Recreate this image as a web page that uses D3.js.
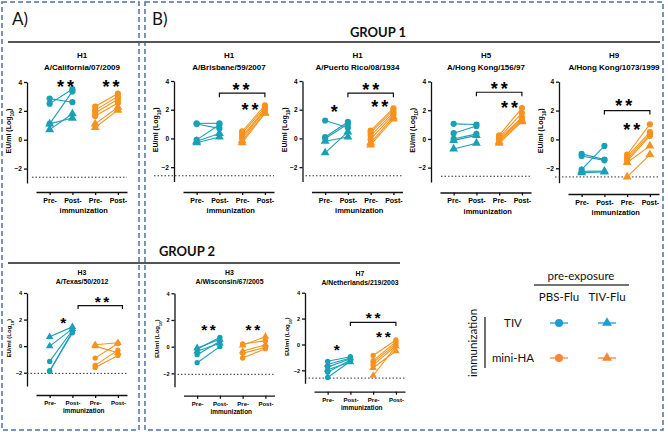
<!DOCTYPE html>
<html>
<head>
<meta charset="utf-8">
<script src="https://cdn.jsdelivr.net/npm/d3@7"></script>
<style>
  body { margin: 0; background: #fff; }
  svg { display: block; }
</style>
</head>
<body>
<div id="chart"></div>
<script>
// ---- categories / ticks
const timepoints = ["Pre-", "Post-", "Pre-", "Post-"];
const yTicks = [4, 2, 0, -2];
const panelTitles = [
  ["H1", "A/California/07/2009"],
  ["H1", "A/Brisbane/59/2007"],
  ["H1", "A/Puerto Rico/08/1934"],
  ["H5", "A/Hong Kong/156/97"],
  ["H9", "A/Hong Kong/1073/1999"],
  ["H3", "A/Texas/50/2012"],
  ["H3", "A/Wisconsin/67/2005"],
  ["H7", "A/Netherlands/219/2003"]
];
const lodValues = [-2.6, -2.6, -2.6, -2.6, -2.6, -2.05, -2.07, -2.6];

// ---- values, each pair is [pre, post] for one animal (log10 EU/ml)
// TIV immunized / PBS-Flu, TIV immunized / TIV-Flu, mini-HA / PBS-Flu, mini-HA / TIV-Flu
const calTivPbs = [[2.85, 2.6], [2.5, 3.5], [1.1, 3.35]];
const calTivTiv = [[1.1, 1.5], [0.7, 1.8]];
const calMiniPbs = [[2.3, 3.2], [2.05, 3.0], [1.85, 2.8], [1.65, 2.55]];
const calMiniTiv = [[1.1, 2.25], [0.85, 2.05]];

const brisTivPbs = [[1.05, 1.05], [1.0, 0.7], [-0.1, 0.95]];
const brisTivTiv = [[-0.2, 0.35], [-0.3, 0.1]];
const brisMiniPbs = [[0.5, 2.3], [0.35, 2.15], [0.15, 2.0], [0.0, 1.95]];
const brisMiniTiv = [[-0.15, 1.8], [-0.3, 1.75]];

const prTivPbs = [[1.25, 0.75], [0.1, 1.15], [0.0, 1.0]];
const prTivTiv = [[-0.2, 0.1], [-1.0, 0.45]];
const prMiniPbs = [[0.55, 2.1], [0.4, 1.95], [0.2, 1.8], [-0.05, 1.65]];
const prMiniTiv = [[-0.3, 1.5], [-0.45, 1.35]];

const h5TivPbs = [[1.05, 1.0], [0.4, 0.9], [0.0, 0.35]];
const h5TivTiv = [[-0.1, 0.25], [-0.7, -0.3]];
const h5MiniPbs = [[0.25, 2.15], [0.1, 1.8], [0.0, 1.5], [-0.1, 1.4]];
const h5MiniTiv = [[-0.2, 1.3], [-0.3, 1.2]];

const h9TivPbs = [[-1.0, -1.4], [-1.15, -1.45], [-2.1, -0.45]];
const h9TivTiv = [[-2.2, -2.2], [-2.3, -2.25]];
const h9MiniPbs = [[-1.05, 1.05], [-1.2, 0.5], [-1.35, 0.35], [-1.5, 0.25]];
const h9MiniTiv = [[-1.6, -0.45], [-2.6, -1.05]];

const texTivPbs = [[-1.15, 1.2], [-1.85, 1.0], [-1.9, 1.1]];
const texTivTiv = [[0.7, 1.45], [0.0, 1.3]];
const texMiniPbs = [[-0.9, 0.2], [-1.45, -0.3], [-1.6, -0.7]];
const texMiniTiv = [[0.1, 0.25], [0.0, -0.5]];

const wisTivPbs = [[-0.2, 0.7], [-0.6, 0.4], [-1.2, 0.0]];
const wisTivTiv = [[-0.1, 0.55], [-0.35, 0.25]];
const wisMiniPbs = [[0.2, 0.45], [-0.5, -0.05], [-0.85, -0.15]];
const wisMiniTiv = [[0.1, 0.75], [-0.35, 0.15]];

const h7TivPbs = [[-1.3, -0.95], [-1.75, -1.1], [-2.15, -1.2], [-2.55, -1.3]];
const h7TivTiv = [[-1.55, -1.05], [-1.95, -1.35]];
const h7MiniPbs = [[-0.85, 0.35], [-1.25, 0.2], [-1.4, 0.05], [-1.6, -0.1]];
const h7MiniTiv = [[-1.8, -0.5], [-2.4, -0.15]];

// significance marks: [text, x position (group index), y value]
const calStars = [["**", 0.7, 3.9], ["**", 2.7, 3.9]];
const brisStars = [["**", 1.95, 3.65], ["**", 2.35, 2.2]];
const prStars = [["*", 0.4, 2.05], ["**", 2.0, 3.6], ["**", 2.4, 2.4]];
const h5Stars = [["**", 2.0, 3.75], ["**", 2.45, 2.4]];
const h9Stars = [["**", 1.85, 2.55], ["**", 2.2, 0.9]];
const texStars = [["*", 0.6, 1.95], ["**", 2.3, 3.55]];
const wisStars = [["**", 0.5, 1.5], ["**", 2.45, 1.5]];
const h7Stars = [["*", 0.4, -0.2], ["**", 2.0, 2.3], ["**", 2.45, 0.8]];
// brackets: [from index, to index, y value]
const panelBrackets = [null, [1, 3, 3.15], [1, 3, 3.15], [1, 3, 3.25], [1, 3, 2.0], [1.25, 3.2, 3.05], null, [1, 3, 1.7]];

// ---- page layout (positions only)
const layout = [
  { ax: 27, top: 82, bot: 183, xa: 192, t1: 58, t2: 70, s: 1, lod: 5 },
  { ax: 174, top: 81, bot: 181.5, xa: 192, t1: 58, t2: 70, s: 1, lod: -20 },
  { ax: 302.5, top: 81, bot: 181.5, xa: 192, t1: 58, t2: 70, s: 1, lod: 3 },
  { ax: 431, top: 81.5, bot: 182, xa: 192.5, t1: 58, t2: 70, s: 1, lod: 10 },
  { ax: 559, top: 81.7, bot: 182.7, xa: 194, t1: 58, t2: 70, s: 1, lod: -4 },
  { ax: 27, top: 293, bot: 386, xa: 395, t1: 275, t2: 283.5, s: 0.86, lod: 0 },
  { ax: 174.5, top: 293.3, bot: 386.7, xa: 395.7, t1: 275, t2: 283.5, s: 0.86, lod: 3 },
  { ax: 305, top: 292.7, bot: 383.3, xa: 391.7, t1: 276, t2: 284.5, s: 0.86, lod: 0 }
];

const panels = [
  [calTivPbs, calTivTiv, calMiniPbs, calMiniTiv, calStars],
  [brisTivPbs, brisTivTiv, brisMiniPbs, brisMiniTiv, brisStars],
  [prTivPbs, prTivTiv, prMiniPbs, prMiniTiv, prStars],
  [h5TivPbs, h5TivTiv, h5MiniPbs, h5MiniTiv, h5Stars],
  [h9TivPbs, h9TivTiv, h9MiniPbs, h9MiniTiv, h9Stars],
  [texTivPbs, texTivTiv, texMiniPbs, texMiniTiv, texStars],
  [wisTivPbs, wisTivTiv, wisMiniPbs, wisMiniTiv, wisStars],
  [h7TivPbs, h7TivTiv, h7MiniPbs, h7MiniTiv, h7Stars]
].map((d, i) => ({
  title: panelTitles[i],
  series: d.slice(0, 4),
  stars: d[4],
  lod: lodValues[i],
  bracket: panelBrackets[i],
  lay: layout[i]
}));

const teal = "#1aa0b6";
const orange = "#f7921e";
const seriesColor = [teal, teal, orange, orange];
const seriesShape = ["circle", "triangle", "circle", "triangle"];
const seriesIdx = [[0, 1], [0, 1], [2, 3], [2, 3]];
const arial = "'Liberation Sans', Arial, sans-serif";
const calibri = "Lato, 'Open Sans', sans-serif";

const svg = d3.select("#chart").append("svg")
  .attr("width", 668)
  .attr("height", 432);

// dashed frames
const frame = "#4d72a0";
svg.append("rect").attr("x", 2).attr("y", 2).attr("width", 137).attr("height", 428)
  .attr("fill", "none").attr("stroke", frame).attr("stroke-width", 1.5).attr("stroke-dasharray", "5,3");
svg.append("rect").attr("x", 145).attr("y", 2).attr("width", 518).attr("height", 428)
  .attr("fill", "none").attr("stroke", frame).attr("stroke-width", 1.5).attr("stroke-dasharray", "5,3");

svg.append("text").attr("x", 12).attr("y", 25).text("A)")
  .style("font-family", calibri).style("font-size", "17px").attr("fill", "#111");
svg.append("text").attr("x", 152).attr("y", 25).text("B)")
  .style("font-family", calibri).style("font-size", "17px").attr("fill", "#111");

// group headers
svg.append("line").attr("x1", 8).attr("x2", 660).attr("y1", 42).attr("y2", 42)
  .attr("stroke", "#555").attr("stroke-width", 2);
svg.append("text").attr("x", 378).attr("y", 37).attr("text-anchor", "middle").text("GROUP 1")
  .style("font-family", calibri).style("font-size", "13px").style("font-weight", "bold").attr("fill", "#111");
svg.append("line").attr("x1", 8).attr("x2", 400).attr("y1", 263).attr("y2", 263)
  .attr("stroke", "#555").attr("stroke-width", 2);
svg.append("text").attr("x", 187).attr("y", 256).attr("text-anchor", "middle").text("GROUP 2")
  .style("font-family", calibri).style("font-size", "13px").style("font-weight", "bold").attr("fill", "#111");

function drawPanel(p) {
  const L = p.lay, s = L.s;
  const g = svg.append("g");
  const y = d3.scaleLinear().domain([-3, 4]).range([L.bot, L.top]);
  const x = d3.scaleLinear().domain([-0.6, 3.4]).range([L.ax + 9, L.ax + 100]);
  const cx = L.ax + 55;

  // titles
  g.append("text").attr("x", cx).attr("y", L.t1).attr("text-anchor", "middle").text(p.title[0])
    .style("font-family", arial).style("font-size", (8 * s) + "px").style("font-weight", "bold");
  g.append("text").attr("x", cx).attr("y", L.t2).attr("text-anchor", "middle").text(p.title[1])
    .style("font-family", arial).style("font-size", (8 * s) + "px").style("font-weight", "bold");

  // y axis
  const yAxis = g.append("g").attr("transform", `translate(${L.ax},0)`)
    .call(d3.axisLeft(y).tickValues(yTicks).tickFormat(d3.format("d")).tickSize(3).tickSizeOuter(0).tickPadding(2));
  yAxis.selectAll("text").style("font-family", arial).style("font-size", (6.5 * s) + "px").style("font-weight", "bold");
  yAxis.selectAll("path,line").attr("stroke", "#111").attr("stroke-width", 1.3);

  const yl = g.append("text")
    .attr("transform", `translate(${L.ax - 16},${y(0.6)}) rotate(-90)`)
    .attr("text-anchor", "middle")
    .style("font-family", arial).style("font-size", (7 * s) + "px").style("font-weight", "bold");
  yl.append("tspan").text("EU/ml (Log");
  yl.append("tspan").text("10").attr("baseline-shift", "sub").style("font-size", (5 * s) + "px");
  yl.append("tspan").text(")");

  // x axis
  const xAxis = g.append("g").attr("transform", `translate(0,${L.xa})`)
    .call(d3.axisBottom(x).tickValues([0, 1, 2, 3]).tickFormat(i => timepoints[i]).tickSize(3).tickSizeOuter(0).tickPadding(3));
  xAxis.selectAll("text").style("font-family", arial).style("font-size", (7 * s) + "px").style("font-weight", "bold");
  xAxis.selectAll("path,line").attr("stroke", "#111").attr("stroke-width", 1.3);
  g.append("text").attr("x", x(1.5)).attr("y", L.xa + 21 * s).attr("text-anchor", "middle").text("immunization")
    .style("font-family", arial).style("font-size", (7.5 * s) + "px").style("font-weight", "bold");

  // limit of detection
  g.append("line").attr("x1", L.ax + L.lod).attr("x2", L.ax + 100)
    .attr("y1", y(p.lod)).attr("y2", y(p.lod))
    .attr("stroke", "#333").attr("stroke-width", 1).attr("stroke-dasharray", "1.5,2");

  // animals: lines then markers
  p.series.forEach((pairs, k) => {
    const [i0, i1] = seriesIdx[k];
    g.selectAll(null).data(pairs).join("line")
      .attr("x1", x(i0)).attr("x2", x(i1))
      .attr("y1", d => y(d[0])).attr("y2", d => y(d[1]))
      .attr("stroke", seriesColor[k]).attr("stroke-width", 1.1);
  });
  p.series.forEach((pairs, k) => {
    const [i0, i1] = seriesIdx[k];
    const pts = pairs.flatMap(d => [[i0, d[0]], [i1, d[1]]]);
    if (seriesShape[k] === "circle") {
      g.selectAll(null).data(pts).join("circle")
        .attr("cx", d => x(d[0])).attr("cy", d => y(d[1])).attr("r", 3.1 * s)
        .attr("fill", seriesColor[k]);
    } else {
      g.selectAll(null).data(pts).join("path")
        .attr("transform", d => `translate(${x(d[0])},${y(d[1])})`)
        .attr("d", d3.symbol(d3.symbolTriangle).size(34 * s * s))
        .attr("fill", seriesColor[k]);
    }
  });

  // bracket
  if (p.bracket) {
    const [a, b, v] = p.bracket;
    g.append("path")
      .attr("d", `M${x(a)},${y(v) + 4 * s}V${y(v)}H${x(b)}V${y(v) + 4 * s}`)
      .attr("fill", "none").attr("stroke", "#111").attr("stroke-width", 1.2);
  }

  // stars
  g.selectAll(null).data(p.stars).join("text")
    .attr("x", d => x(d[1]) + 1.5 * s).attr("y", d => y(d[2]) + 9.5 * s)
    .attr("text-anchor", "middle")
    .style("font-family", arial).style("font-size", (18 * s) + "px").style("font-weight", "bold")
    .style("letter-spacing", (3 * s) + "px")
    .text(d => d[0]);
}

panels.forEach(drawPanel);

// legend
const lg = svg.append("g").style("font-family", calibri).style("font-size", "11.5px").attr("fill", "#111");
const legendCols = ["PBS-Flu", "TIV-Flu"];
const legendRows = ["TIV", "mini-HA"];
const legendColors = ["#1c9ed1", "#f5863a"];
const colX = d3.scalePoint().domain(legendCols).range([559, 607]);
const rowY = d3.scalePoint().domain(legendRows).range([323, 358]);

lg.append("text").attr("x", 581).attr("y", 280).attr("text-anchor", "middle").text("pre-exposure");
lg.append("line").attr("x1", 534).attr("x2", 629).attr("y1", 285).attr("y2", 285).attr("stroke", "#444").attr("stroke-width", 1.5);
lg.selectAll(null).data(legendCols).join("text")
  .attr("x", d => colX(d)).attr("y", 301).attr("text-anchor", "middle").text(d => d);
lg.selectAll(null).data(legendRows).join("text")
  .attr("x", 513).attr("y", d => rowY(d) + 4).attr("text-anchor", "middle").text(d => d);
lg.append("line").attr("x1", 485).attr("x2", 485).attr("y1", 317).attr("y2", 368).attr("stroke", "#222").attr("stroke-width", 1.3);
lg.append("text").attr("transform", "translate(477,343) rotate(-90)").attr("text-anchor", "middle").text("immunization");

legendRows.forEach((r, ri) => {
  legendCols.forEach((c, ci) => {
    const cxp = colX(c), cyp = rowY(r);
    lg.append("line").attr("x1", cxp - 9).attr("x2", cxp + 9).attr("y1", cyp).attr("y2", cyp)
      .attr("stroke", legendColors[ri]).attr("stroke-width", 1.3);
    if (ci === 0) {
      lg.append("circle").attr("cx", cxp).attr("cy", cyp).attr("r", 4).attr("fill", legendColors[ri]);
    } else {
      lg.append("path").attr("transform", `translate(${cxp},${cyp})`)
        .attr("d", d3.symbol(d3.symbolTriangle).size(42)).attr("fill", legendColors[ri]);
    }
  });
});
</script>
</body>
</html>
